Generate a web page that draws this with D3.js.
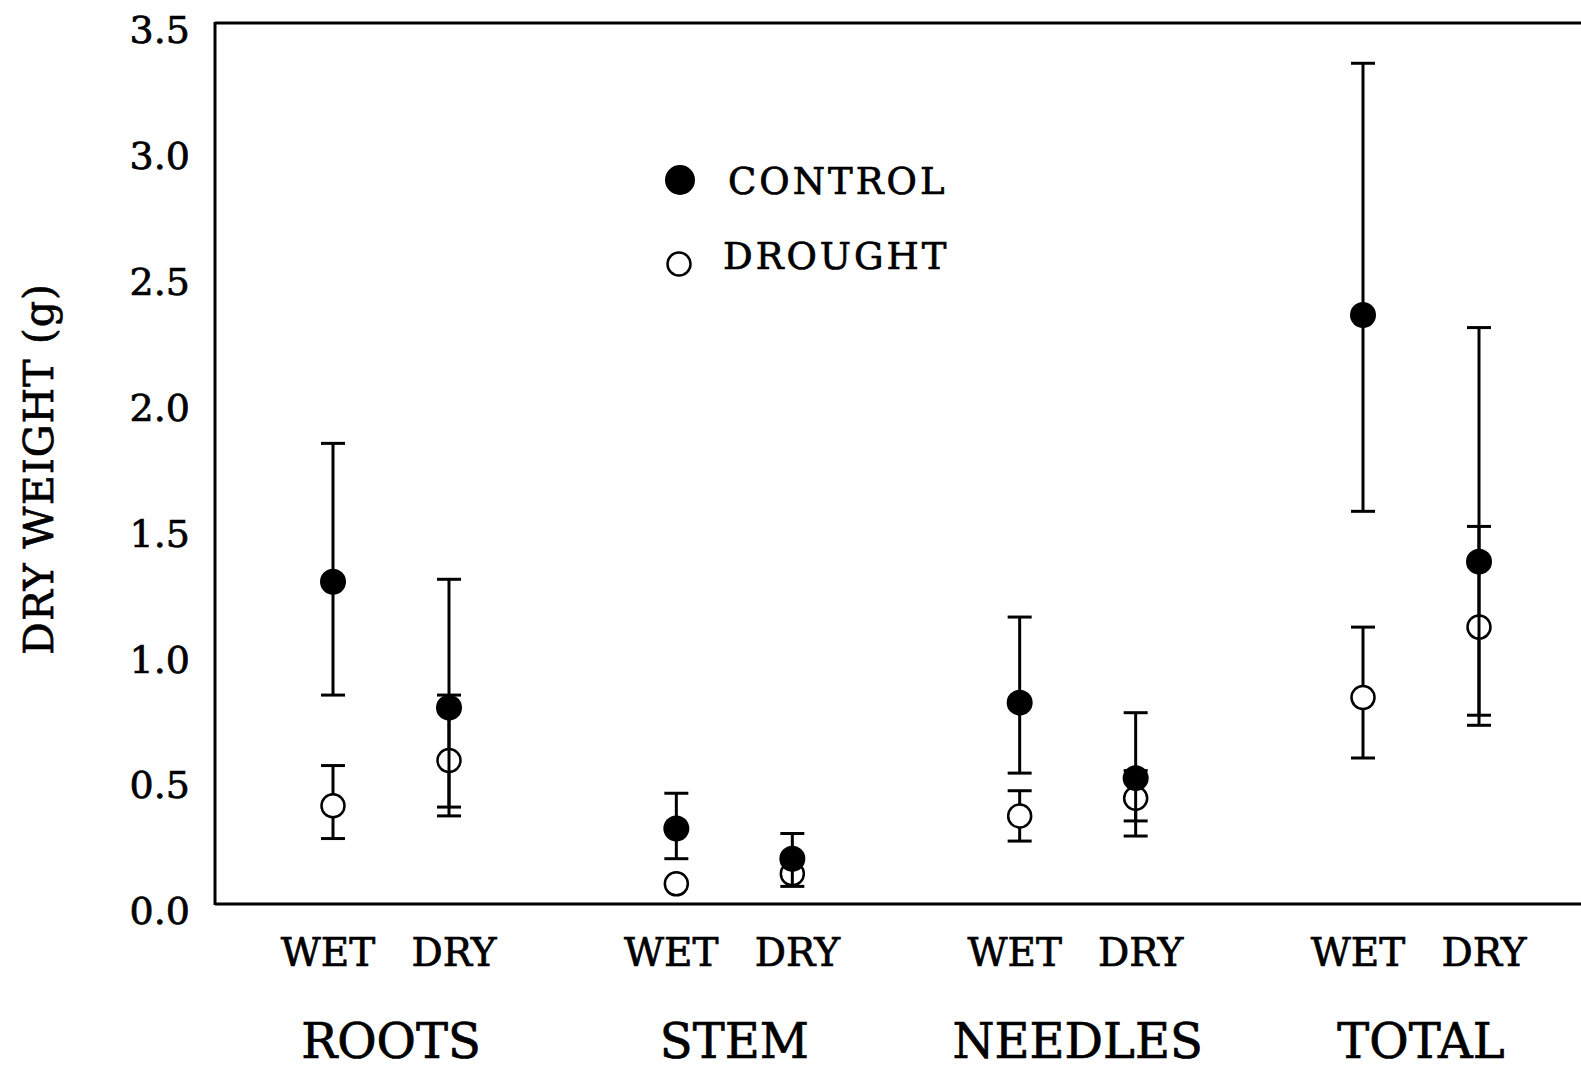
<html>
<head>
<script src="https://d3js.org/d3.v7.min.js"></script>
<style>
body { margin:0; background:#fff; }
text { font-family:"DejaVu Serif", "Liberation Serif", serif; fill:#000; stroke:#000; stroke-width:0.7px; }
</style>
</head>
<body>
<div id="chart"></div>
<script>
	// data (dry weight in grams)
	var groups = ["ROOTS", "STEM", "NEEDLES", "TOTAL"];
	var conditions = ["WET", "DRY"];
	// order: ROOTS wet, ROOTS dry, STEM wet, STEM dry, NEEDLES wet, NEEDLES dry, TOTAL wet, TOTAL dry
	var controlMean  = [1.28, 0.78, 0.30, 0.18, 0.80, 0.50, 2.34, 1.36];
	var controlUpper = [1.83, 1.29, 0.44, 0.28, 1.14, 0.76, 3.34, 2.29];
	var controlLower = [0.83, 0.385, 0.18, 0.07, 0.52, 0.33, 1.56, 0.71];
	var droughtMean  = [0.39, 0.57, 0.08, 0.12, 0.35, 0.42, 0.82, 1.10];
	var droughtUpper = [0.55, 0.83, 0.08, 0.12, 0.45, 0.53, 1.10, 1.50];
	var droughtLower = [0.26, 0.35, 0.08, 0.12, 0.25, 0.27, 0.58, 0.75];
	var yTicks = [0, 0.5, 1.0, 1.5, 2.0, 2.5, 3.0, 3.5];

	var width = 1581;
	var height = 1072;
	var plotLeft = 215, plotTop = 23, plotBottom = 904;

	var svg = d3.select("#chart").append("svg")
		.attr("width", width)
		.attr("height", height);

	var y = d3.scaleLinear().domain([0, 3.5]).range([plotBottom, plotTop]);
	var groupX = d3.scalePoint().domain(groups).range([391, 1421]);
	var condX = d3.scalePoint().domain(conditions).range([-58, 58]);
	// tick labels under the marks sit slightly wider apart
	var labelX = d3.scalePoint().domain(conditions).range([-63, 63]);

	//build rows for the points
	function rows(means, uppers, lowers) {
		var out = [];
		for (var i = 0; i < means.length; i++) {
			var g = groups[Math.floor(i / 2)];
			var c = conditions[i % 2];
			out.push({group:g, cond:c, mean:means[i], hi:uppers[i], lo:lowers[i],
				x: groupX(g) + condX(c)});
		}
		return out;
	}
	var control = rows(controlMean, controlUpper, controlLower);
	var drought = rows(droughtMean, droughtUpper, droughtLower);

	// frame: left, top and bottom lines (right edge is cut off in the scan)
	svg.append("line").attr("x1", plotLeft).attr("x2", plotLeft).attr("y1", plotTop - 1).attr("y2", plotBottom + 1)
		.attr("stroke", "#000").attr("stroke-width", 3);
	svg.append("line").attr("x1", plotLeft).attr("x2", width).attr("y1", plotTop).attr("y2", plotTop)
		.attr("stroke", "#000").attr("stroke-width", 3);
	svg.append("line").attr("x1", plotLeft).attr("x2", width).attr("y1", plotBottom).attr("y2", plotBottom)
		.attr("stroke", "#000").attr("stroke-width", 3);

	// y axis labels
	var yAxis = d3.axisLeft(y).tickValues(yTicks).tickFormat(d3.format(".1f")).tickSize(0).tickPadding(25);
	var ag = svg.append("g").attr("transform", "translate(" + plotLeft + ",0)").call(yAxis);
	ag.select(".domain").remove();
	ag.selectAll("text")
		.attr("dy", "0.52em")
		.style("font-family", '"DejaVu Serif", serif')
		.style("font-size", "38px")
		.attr("fill", "#000");

	svg.append("text")
		.attr("transform", "translate(53,469) rotate(-90)")
		.attr("text-anchor", "middle")
		.style("font-size", "41px")
		.style("letter-spacing", "1px")
		.text("DRY WEIGHT (g)");

	// error bars
	function drawBars(data) {
		var g = svg.append("g").attr("stroke", "#000").attr("stroke-width", 3);
		var d = data.filter(function(d) { return d.hi > d.lo; });
		g.selectAll(".v").data(d).enter().append("line")
			.attr("x1", function(d) { return d.x; }).attr("x2", function(d) { return d.x; })
			.attr("y1", function(d) { return y(d.hi); }).attr("y2", function(d) { return y(d.lo); });
		g.selectAll(".hi").data(d).enter().append("line")
			.attr("x1", function(d) { return d.x - 12; }).attr("x2", function(d) { return d.x + 12; })
			.attr("y1", function(d) { return y(d.hi); }).attr("y2", function(d) { return y(d.hi); });
		g.selectAll(".lo").data(d).enter().append("line")
			.attr("x1", function(d) { return d.x - 12; }).attr("x2", function(d) { return d.x + 12; })
			.attr("y1", function(d) { return y(d.lo); }).attr("y2", function(d) { return y(d.lo); });
	}

	drawBars(drought);
	svg.append("g").selectAll("circle").data(drought).enter().append("circle")
		.attr("cx", function(d) { return d.x; })
		.attr("cy", function(d) { return y(d.mean); })
		.attr("r", 11.5)
		.attr("fill", "#fff")
		.attr("stroke", "#000")
		.attr("stroke-width", 2.5);

	drawBars(control);
	svg.append("g").selectAll("circle").data(control).enter().append("circle")
		.attr("cx", function(d) { return d.x; })
		.attr("cy", function(d) { return y(d.mean); })
		.attr("r", 13)
		.attr("fill", "#000");

	// legend
	svg.append("circle").attr("cx", 680).attr("cy", 180).attr("r", 15).attr("fill", "#000");
	svg.append("text").attr("x", 728).attr("y", 194)
		.style("font-size", "37px").style("letter-spacing", "3px").text("CONTROL");
	svg.append("circle").attr("cx", 679).attr("cy", 264).attr("r", 11.5)
		.attr("fill", "none").attr("stroke", "#000").attr("stroke-width", 2.5);
	svg.append("text").attr("x", 723).attr("y", 269)
		.style("font-size", "37px").style("letter-spacing", "3px").text("DROUGHT");

	// x labels
	var xl = svg.append("g");
	groups.forEach(function(g) {
		conditions.forEach(function(c) {
			xl.append("text")
				.attr("x", groupX(g) + labelX(c))
				.attr("y", 966)
				.attr("text-anchor", "middle")
				.style("font-size", "39px")
				.text(c);
		});
		xl.append("text")
			.attr("x", groupX(g))
			.attr("y", 1058)
			.attr("text-anchor", "middle")
			.style("font-size", "48px")
			.text(g);
	});
</script>
</body>
</html>
